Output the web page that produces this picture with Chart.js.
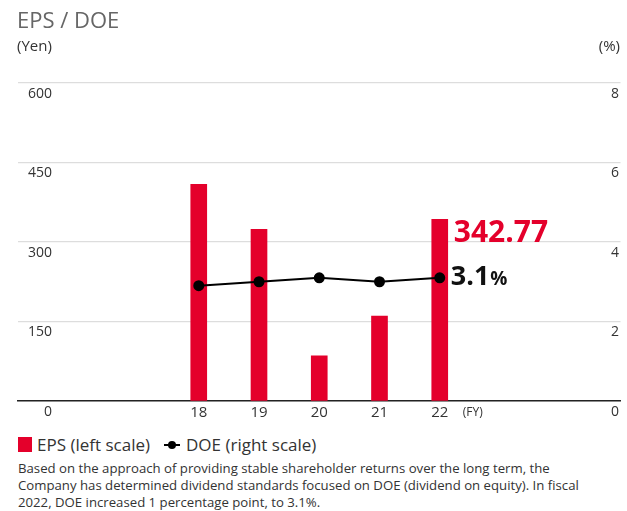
<!DOCTYPE html>
<html lang="en">
<head>
    <meta charset="UTF-8">
    <title>EPS / DOE</title>
    <script src="https://cdn.jsdelivr.net/npm/chart.js"></script>
    <style>
        body {
            margin: 0;
            background: #fff;
            font-family: "Open Sans", Arial, sans-serif;
            color: #333;
        }
        .wrap {
            position: relative;
            width: 627px;
            height: 511px;
            overflow: hidden;
        }
        .title {
            position: absolute;
            left: 17px;
            top: 4px;
            font-size: 22px;
            color: #666;
        }
        .unit {
            position: absolute;
            top: 35px;
            font-size: 15px;
            color: #333;
        }
        .chart-box {
            position: absolute;
            left: 0;
            top: 0;
            width: 627px;
            height: 425px;
        }
        .legend {
            position: absolute;
            left: 18px;
            top: 433px;
            font-size: 17px;
            display: flex;
            align-items: center;
        }
        .sq {
            display: inline-block;
            width: 14px;
            height: 15px;
            background: #e4002b;
            margin-right: 5px;
        }
        .ln {
            display: inline-block;
            position: relative;
            width: 16px;
            height: 2px;
            background: #000;
            margin: 0 6px 0 14px;
        }
        .ln::after {
            content: "";
            position: absolute;
            left: 4px;
            top: -3px;
            width: 8px;
            height: 8px;
            border-radius: 50%;
            background: #000;
        }
        .note {
            position: absolute;
            left: 18px;
            top: 460px;
            width: 562px;
            font-size: 13.2px;
            line-height: 17px;
            color: #333;
        }
    </style>
</head>
<body>
<div class="wrap">
    <div class="chart-box"><canvas id="myChart"></canvas></div>
    <div class="title">EPS / DOE</div>
    <div class="unit" style="left:17px">(Yen)</div>
    <div class="unit" style="right:7px">(%)</div>
    <div class="legend">
        <span class="sq"></span>EPS (left scale)
        <span class="ln"></span>DOE (right scale)
    </div>
    <div class="note">Based on the approach of providing stable shareholder returns over the long term, the Company has determined dividend standards focused on DOE (dividend on equity). In fiscal 2022, DOE increased 1 percentage point, to 3.1%.</div>
</div>

<script>
    const years = [18, 19, 20, 21, 22];
    const eps = [409, 324, 85, 160, 342.77];
    const doe = [2.9, 3.0, 3.1, 3.0, 3.1];
    const yenTicks = [0, 150, 300, 450, 600];
    const pctTicks = [0, 2, 4, 6, 8];

    const RED = '#e4002b';

    const labelsPlugin = {
        id: 'labelsPlugin',
        afterDraw(chart) {
            const c = chart.ctx;
            const y = chart.scales.y;
            const y1 = chart.scales.y1;
            const x = chart.scales.x;
            c.save();
            c.font = '14px "Open Sans", Arial, sans-serif';
            c.fillStyle = '#333';
            c.textAlign = 'right';
            c.textBaseline = 'middle';
            yenTicks.forEach(v => c.fillText(String(v), 52, y.getPixelForValue(v) + 11));
            pctTicks.forEach(v => c.fillText(String(v), 619, y1.getPixelForValue(v) + 11));

            // (FY)
            c.textAlign = 'left';
            c.font = '12px "Open Sans", Arial, sans-serif';
            c.fillText('(FY)', x.getPixelForValue(22) + 23, chart.chartArea.bottom + 12);

            // last values
            const bar = chart.getDatasetMeta(0).data[4];
            c.fillStyle = RED;
            c.font = 'bold 30px "Open Sans", Arial, sans-serif';
            c.fillText('342.77', bar.x + 14, y.getPixelForValue(eps[4]) + 14);

            const pt = chart.getDatasetMeta(1).data[4];
            c.fillStyle = '#111';
            c.font = 'bold 27px "Open Sans", Arial, sans-serif';
            c.fillText('3.1', pt.x + 11, pt.y);
            const w = c.measureText('3.1').width;
            c.font = 'bold 19px "Open Sans", Arial, sans-serif';
            c.fillText('%', pt.x + 12 + w, pt.y + 2);
            c.restore();
        }
    };

    const ctx = document.getElementById('myChart').getContext('2d');
    new Chart(ctx, {
        data: {
            datasets: [
                {
                    type: 'bar',
                    label: 'EPS (left scale)',
                    data: years.map((yr, i) => ({ x: yr, y: eps[i] })),
                    backgroundColor: RED,
                    barThickness: 16,
                    yAxisID: 'y',
                    order: 2
                },
                {
                    type: 'line',
                    label: 'DOE (right scale)',
                    data: years.map((yr, i) => ({ x: yr, y: doe[i] })),
                    borderColor: '#000',
                    backgroundColor: '#000',
                    borderWidth: 2,
                    pointRadius: 4.5,
                    pointBackgroundColor: '#000',
                    tension: 0,
                    yAxisID: 'y1',
                    order: 1
                }
            ]
        },
        options: {
            responsive: true,
            maintainAspectRatio: false,
            animation: false,
            layout: { padding: { left: 18, right: 6, top: 83, bottom: 0 } },
            plugins: {
                legend: { display: false },
                tooltip: { enabled: false }
            },
            scales: {
                x: {
                    type: 'linear',
                    offset: false,
                    min: 15,
                    max: 25,
                    afterBuildTicks: s => { s.ticks = years.map(v => ({ value: v })); },
                    ticks: {
                        autoSkip: false,
                        color: '#333',
                        padding: 3,
                        font: { size: 15, family: '"Open Sans", Arial, sans-serif' },
                        callback: v => String(v)
                    },
                    grid: { display: false, drawTicks: false, offset: false },
                    border: { display: true, color: '#222', width: 1.5 }
                },
                y: {
                    position: 'left',
                    min: 0,
                    max: 600,
                    afterBuildTicks: s => { s.ticks = yenTicks.map(v => ({ value: v })); },
                    afterFit: s => { s.width = 0; },
                    ticks: { display: false },
                    grid: { color: '#dddddd', lineWidth: 1.2, drawTicks: false },
                    border: { display: false }
                },
                y1: {
                    position: 'right',
                    min: 0,
                    max: 8,
                    afterBuildTicks: s => { s.ticks = pctTicks.map(v => ({ value: v })); },
                    afterFit: s => { s.width = 0; },
                    ticks: { display: false },
                    grid: { display: false, drawTicks: false },
                    border: { display: false }
                }
            }
        },
        plugins: [labelsPlugin]
    });
</script>
</body>
</html>
